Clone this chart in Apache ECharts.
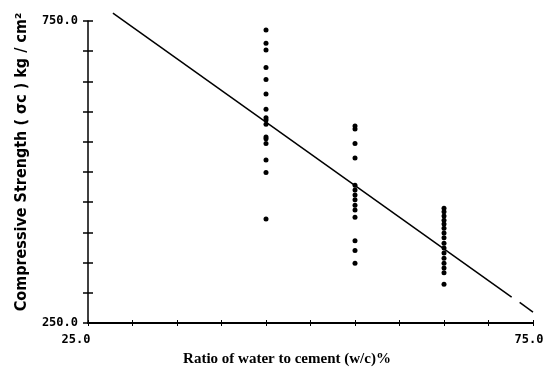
<!DOCTYPE html>
<html>
<head>
<meta charset="utf-8">
<script src="https://cdn.jsdelivr.net/npm/echarts@6/dist/echarts.min.js"></script>
<style>html,body{margin:0;padding:0;background:#fff;}#c{width:551px;height:373px;}</style>
</head>
<body>
<div id="c"></div>
<script>
// Data
var ratioCols = [45, 55, 65];
var strength45 = [735, 713, 702, 673, 653, 629, 604, 590, 586, 579, 558, 555, 547, 520, 499, 422];
var strength55 = [576, 571, 547, 523, 478, 470, 462, 454, 445, 437, 425, 386, 370, 349];
var strength65 = [440, 434, 427, 420, 414, 407, 399, 391, 382, 374, 366, 357, 349, 341, 333, 314];
var fitMain = [[27.8, 763], [72.6, 293]];
var fitTail = [[73.5, 284], [75, 268]];
var xTickLabels = ['25.0', '75.0'];
var yTickLabels = ['250.0', '750.0'];

var groups = [strength45, strength55, strength65];
var scatterData = [];
groups.forEach(function (arr, i) {
  arr.forEach(function (v) { scatterData.push([ratioCols[i], v]); });
});

var monoFont = '"DejaVu Sans Mono", monospace';
var chart = echarts.init(document.getElementById('c'));
chart.setOption({
  animation: false,
  backgroundColor: '#fff',
  grid: { left: 88, right: 18, top: 21, bottom: 50 },
  xAxis: [{
    type: 'value', min: 25, max: 75, interval: 5,
    name: 'Ratio of water to cement (w/c)%',
    nameLocation: 'middle', nameGap: 29,
    nameTextStyle: { fontFamily: '"Liberation Serif", serif', fontWeight: 'bold', fontSize: 15, color: '#000', padding: [0, 47, 0, 0] },
    axisLine: { lineStyle: { color: '#000', width: 2 } },
    axisTick: { show: false },
    axisLabel: {
      margin: 11, color: '#000', fontFamily: monoFont, fontWeight: 'bold', fontSize: 12,
      formatter: function (v) {
        if (v === 25) return '{a|' + xTickLabels[0] + '}';
        if (v === 75) return '{b|' + xTickLabels[1] + '}';
        return '';
      },
      rich: {
        a: { fontFamily: monoFont, fontWeight: 'bold', fontSize: 12, color: '#000', padding: [0, 24, 0, 0] },
        b: { fontFamily: monoFont, fontWeight: 'bold', fontSize: 12, color: '#000', padding: [0, 8, 0, 0] }
      }
    },
    splitLine: { show: false }
  }, {
    type: 'value', min: 25, max: 75, interval: 5, position: 'bottom', offset: -3,
    axisLine: { show: false },
    axisTick: { show: true, inside: false, length: 6, lineStyle: { color: '#000', width: 1 } },
    axisLabel: { show: false }, splitLine: { show: false }
  }],
  yAxis: [{
    type: 'value', min: 250, max: 750, interval: 50,
    name: 'Compressive Strength ( \u03c3c ) kg / cm\u00b2',
    nameLocation: 'middle', nameGap: 58, nameRotate: 90,
    nameTextStyle: { fontFamily: '"DejaVu Sans Condensed", sans-serif', fontWeight: 'bold', fontSize: 16, color: '#000', padding: [0, 0, 0, 20] },
    axisLine: { lineStyle: { color: '#000', width: 1.5 } },
    axisTick: { show: false },
    axisLabel: {
      margin: 10, color: '#000', fontFamily: monoFont, fontWeight: 'bold', fontSize: 12,
      formatter: function (v) {
        if (v === 250) return yTickLabels[0];
        if (v === 750) return yTickLabels[1];
        return '';
      }
    },
    splitLine: { show: false }
  }, {
    type: 'value', min: 250, max: 750, interval: 50, position: 'left', offset: -5,
    axisLine: { show: false },
    axisTick: { show: true, inside: false, length: 10, lineStyle: { color: '#000', width: 1.5 } },
    axisLabel: { show: false }, splitLine: { show: false }
  }],
  series: [{
    type: 'scatter', data: scatterData, symbol: 'circle', symbolSize: 5,
    itemStyle: { color: '#000', opacity: 1 }
  }, {
    type: 'line', data: fitMain, showSymbol: false, clip: false,
    lineStyle: { color: '#000', width: 1.5 }
  }, {
    type: 'line', data: fitTail, showSymbol: false, clip: false,
    lineStyle: { color: '#000', width: 1.5 }
  }]
});
</script>
</body>
</html>
